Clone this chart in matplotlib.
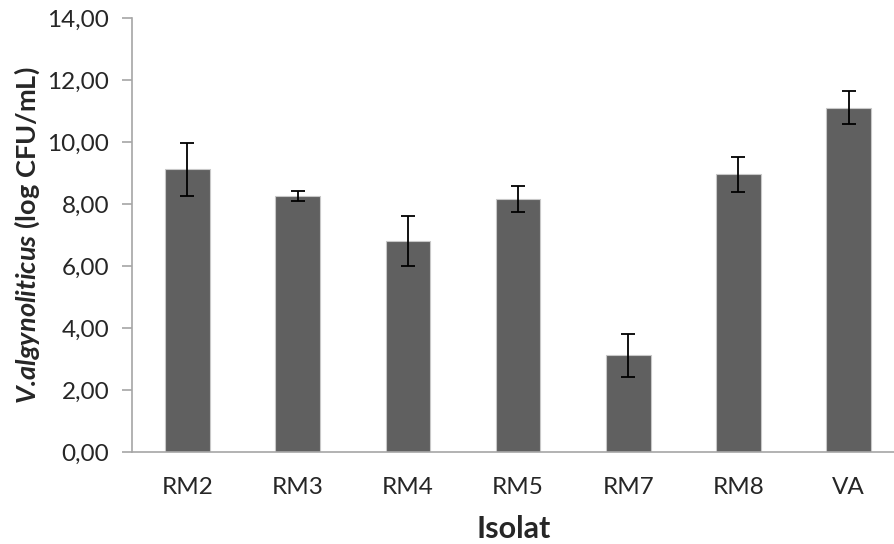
import matplotlib.pyplot as plt
from matplotlib.ticker import FuncFormatter

# Isolate counts (log CFU/mL)
isolates = ['RM2', 'RM3', 'RM4', 'RM5', 'RM7', 'RM8', 'VA']
means = [9.13, 8.27, 6.82, 8.17, 3.13, 8.97, 11.12]
errors = [0.86, 0.15, 0.81, 0.43, 0.70, 0.56, 0.52]

plt.rcParams['font.family'] = ['Lato', 'DejaVu Sans']
plt.rcParams['mathtext.fontset'] = 'custom'
plt.rcParams['mathtext.it'] = 'Lato:italic:bold'
plt.rcParams['mathtext.rm'] = 'Lato:bold'

fig = plt.figure(figsize=(8.95, 5.44), dpi=100)
ax = fig.add_axes([132.3 / 895, 91.7 / 544, (895 - 132.3) / 895, 434.0 / 544])

x = list(range(len(isolates)))
ax.bar(x, means, width=0.405, color='#606060', edgecolor='#c8c8c8', linewidth=0.8,
       yerr=errors, capsize=5, error_kw=dict(ecolor='black', elinewidth=1.3, capthick=1.3),
       zorder=2)

ax.set_xlim(-0.5, 6.42)
ax.set_ylim(0, 14)
ax.set_yticks(range(0, 15, 2))
ax.yaxis.set_major_formatter(FuncFormatter(lambda v, p: f'{v:.2f}'.replace('.', ',')))
ax.set_xticks(x)
ax.set_xticklabels(isolates)

for side in ['top', 'right']:
    ax.spines[side].set_visible(False)
for side in ['left', 'bottom']:
    ax.spines[side].set_color('#a6a6a6')
    ax.spines[side].set_linewidth(1.2)

ax.tick_params(axis='y', length=7.5, width=1.2, color='#a6a6a6', labelsize=17.5,
               labelcolor='#262626', pad=9)
ax.tick_params(axis='x', length=0, labelsize=17.5, labelcolor='#262626', pad=18)

ax.set_xlabel('Isolat', fontsize=22, fontweight='bold', color='#262626', labelpad=12)
ax.set_ylabel(r'$\mathit{V.\!algynoliticus}$ (log CFU/mL)', fontsize=19.5,
              fontweight='bold', color='#262626', labelpad=4)

fig.savefig('out.png', dpi=100)
